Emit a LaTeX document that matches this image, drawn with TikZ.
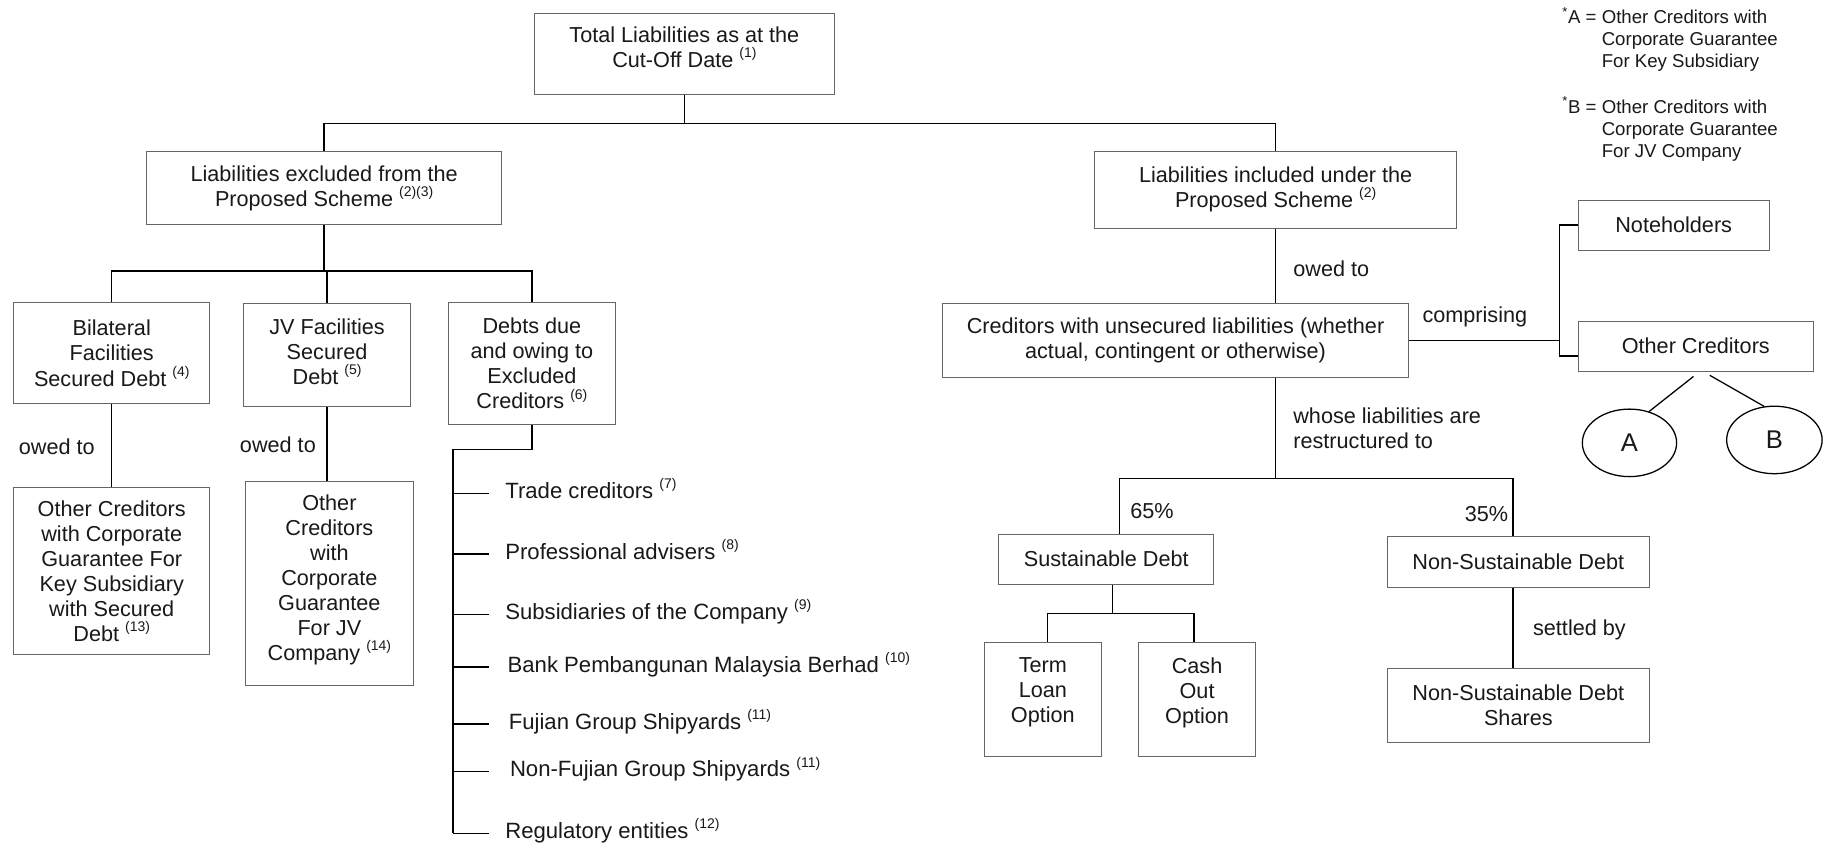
\documentclass[tikz,border=0pt]{standalone}
\usepackage{fontspec}
\setmainfont{Liberation Sans}
\usetikzlibrary{shapes.geometric}
\newcommand\fn[1]{\raisebox{8.5pt}{\fontsize{12}{13}\selectfont #1}}
\newcommand\padb[1]{\\[#1]\mbox{}}
\newcommand\bxfont{\fontsize{18.6}{21.5}\selectfont}
\newcommand\itfont{\fontsize{19}{22}\selectfont}
\newcommand\lgfont{\fontsize{16}{19}\selectfont}
\begin{document}
\begin{tikzpicture}[x=1pt,y=-1pt,
  box/.style={draw=black!60, line width=0.9pt, align=center, inner sep=0pt, font=\bxfont, text=black!90},
  con/.style={draw=black, line width=1.3pt},
  thin/.style={draw=black, line width=1.1pt},
  lbl/.style={inner sep=0pt, font=\bxfont, text=black!90},
  item/.style={inner sep=0pt, font=\itfont, anchor=base west, text=black!90},
  legend/.style={inner sep=0pt, font=\lgfont, align=left, anchor=north west, text=black!90},
  oval/.style={ellipse, draw=black, line width=1.1pt, inner sep=0pt, font=\fontsize{22}{24}\selectfont, text=black!90}]
\useasboundingbox (0,0) rectangle (1568,727);
\fill[white] (0,0) rectangle (1568,727);

% boxes
\node[box, minimum width=258pt, minimum height=69pt] (tot) at (588,46.5) {Total Liabilities as at the\\Cut-Off Date \fn{(1)}\padb{-9pt}};
\node[box, minimum width=305pt, minimum height=63pt] (exc) at (278.5,161.5) {Liabilities excluded from the\\Proposed Scheme \fn{(2)(3)}};
\node[box, minimum width=311pt, minimum height=66pt] (inc) at (1096,163) {Liabilities included under the\\Proposed Scheme \fn{(2)}};
\node[box, minimum width=168pt, minimum height=87pt] (bil) at (96,303.5) {Bilateral\\Facilities\\Secured Debt \fn{(4)}};
\node[box, minimum width=144pt, minimum height=88pt] (jv) at (281,305) {JV Facilities\\Secured\\Debt \fn{(5)}\padb{-15.6pt}};
\node[box, minimum width=144pt, minimum height=105pt] (dbt) at (457,312.5) {Debts due\\and owing to\\Excluded\\Creditors \fn{(6)}};
\node[box, minimum width=168pt, minimum height=143pt] (oc1) at (96,490.5) {Other Creditors\\with Corporate\\Guarantee For\\Key Subsidiary\\with Secured\\Debt \fn{(13)}};
\node[box, minimum width=144pt, minimum height=175pt] (oc2) at (283,501.5) {Other\\Creditors\\with\\Corporate\\Guarantee\\For JV\\Company \fn{(14)}\padb{-11.6pt}};
\node[box, minimum width=400pt, minimum height=63pt] (cred) at (1010,292.5) {Creditors with unsecured liabilities (whether\\actual, contingent or otherwise)};
\node[box, minimum width=164pt, minimum height=43pt] (note) at (1438,193.5) {Noteholders};
\node[box, minimum width=202pt, minimum height=43pt] (othc) at (1457,297.5) {Other Creditors};
\node[oval, minimum width=81pt, minimum height=58pt] (A) at (1400,380.5) {A};
\node[oval, minimum width=82pt, minimum height=58pt] (B) at (1524.5,378) {B};
\node[box, minimum width=185pt, minimum height=43pt] (sus) at (950.5,480.5) {Sustainable Debt};
\node[box, minimum width=225pt, minimum height=44pt] (nsd) at (1304.5,483) {Non-Sustainable Debt};
\node[box, minimum width=100pt, minimum height=98pt] (term) at (896,601) {Term\\Loan\\Option\padb{-5.6pt}};
\node[box, minimum width=101pt, minimum height=98pt] (cash) at (1028.5,601) {Cash\\Out\\Option\padb{-5.6pt}};
\node[box, minimum width=225pt, minimum height=64pt] (nsds) at (1304.5,606) {Non-Sustainable Debt\\Shares};

% legend
\node[legend] (lgA) at (1376,6) {\llap{\textsuperscript{*}A = }Other Creditors with\\Corporate Guarantee\\For Key Subsidiary};
\node[legend] (lgB) at (1376,83) {\llap{\textsuperscript{*}B = }Other Creditors with\\Corporate Guarantee\\For JV Company};

% top level connectors
\coordinate (j1) at (588,106);
\draw[con] (tot.south) -- (j1);
\draw[con] (exc.north) |- (j1);
\draw[con] (inc.north) |- (j1);

% excluded branch
\coordinate (j2) at (278.5,233);
\draw[con] (exc.south) -- (j2);
\draw[con] (bil.north) |- (j2);
\draw[con] (jv.north) |- (j2);
\draw[con] (dbt.north) |- (j2);

\draw[thin] (bil.south) -- (oc1.north);
\node[lbl, anchor=west] (ow1) at (16,384) {owed to};
\draw[thin] (jv.south) -- (jv.south |- oc2.north);
\node[lbl, anchor=west] (ow2) at (206,382) {owed to};

% list of excluded creditors
\coordinate (sp1) at (389,386);
\coordinate (sp2) at (389,716);
\draw[con] (dbt.south) |- (sp1) -- (sp2);
\foreach \nm/\yy/\xx/\txt in {
  i1/424/434/{Trade creditors \fn{(7)}},
  i2/476/434/{Professional advisers \fn{(8)}},
  i3/528/434/{Subsidiaries of the Company \fn{(9)}},
  i4/573/436/{Bank Pembangunan Malaysia Berhad \fn{(10)}},
  i5/622/437/{Fujian Group Shipyards \fn{(11)}},
  i6/663/438/{Non-Fujian Group Shipyards \fn{(11)}},
  i7/716/434/{Regulatory entities \fn{(12)}}} {
  \coordinate (t\nm) at (420,\yy);
  \node[item] (\nm) at (\xx,\yy+4.5) {\txt};
  \draw[con] (sp1 |- t\nm) -- (t\nm);
}

% included branch
\draw[thin] (inc.south) -- (inc.south |- cred.north);
\node[lbl, anchor=west] (ow3) at (1111,231) {owed to};

\coordinate (bt) at (1340,193.5);
\coordinate (bb) at (1340,306);
\draw[con] (cred.east) -- (cred.east -| bt);
\draw[con] (note.west) -- (bt) -- (bb) -- (bb -| othc.west);
\node[lbl, anchor=west] (cmp) at (1222,272) {comprising};

\draw[thin] ([shift={(-2,4)}]othc.south) -- (A.58);
\draw[thin] ([shift={(12,3)}]othc.south) -- (B.107);

% restructured
\coordinate (j3) at (1096,411);
\coordinate (l65) at (962,411);
\coordinate (r35) at (1300,411);
\draw[thin] (j3 |- cred.south) -- (j3);
\node[lbl, anchor=west, align=left] (wl) at (1111,368) {whose liabilities are\\restructured to};
\draw[con] (l65) -- (r35);
\draw[con] (l65) -- (l65 |- sus.north);
\draw[con] (r35) -- (r35 |- nsd.north);
\node[lbl, anchor=west] (p65) at (971,439) {65\%};
\node[lbl, anchor=east] (p35) at (1296,442) {35\%};

% sustainable
\coordinate (j4) at (956,527);
\coordinate (tl) at (900,527);
\coordinate (cr) at (1026,527);
\draw[con] (j4 |- sus.south) -- (j4);
\draw[con] (tl) -- (cr);
\draw[con] (tl) -- (tl |- term.north);
\draw[con] (cr) -- (cr |- cash.north);

% non-sustainable
\draw[con] (r35 |- nsd.south) -- (r35 |- nsds.north);
\node[lbl, anchor=west] (stl) at (1317,541) {settled by};
\end{tikzpicture}
\end{document}
